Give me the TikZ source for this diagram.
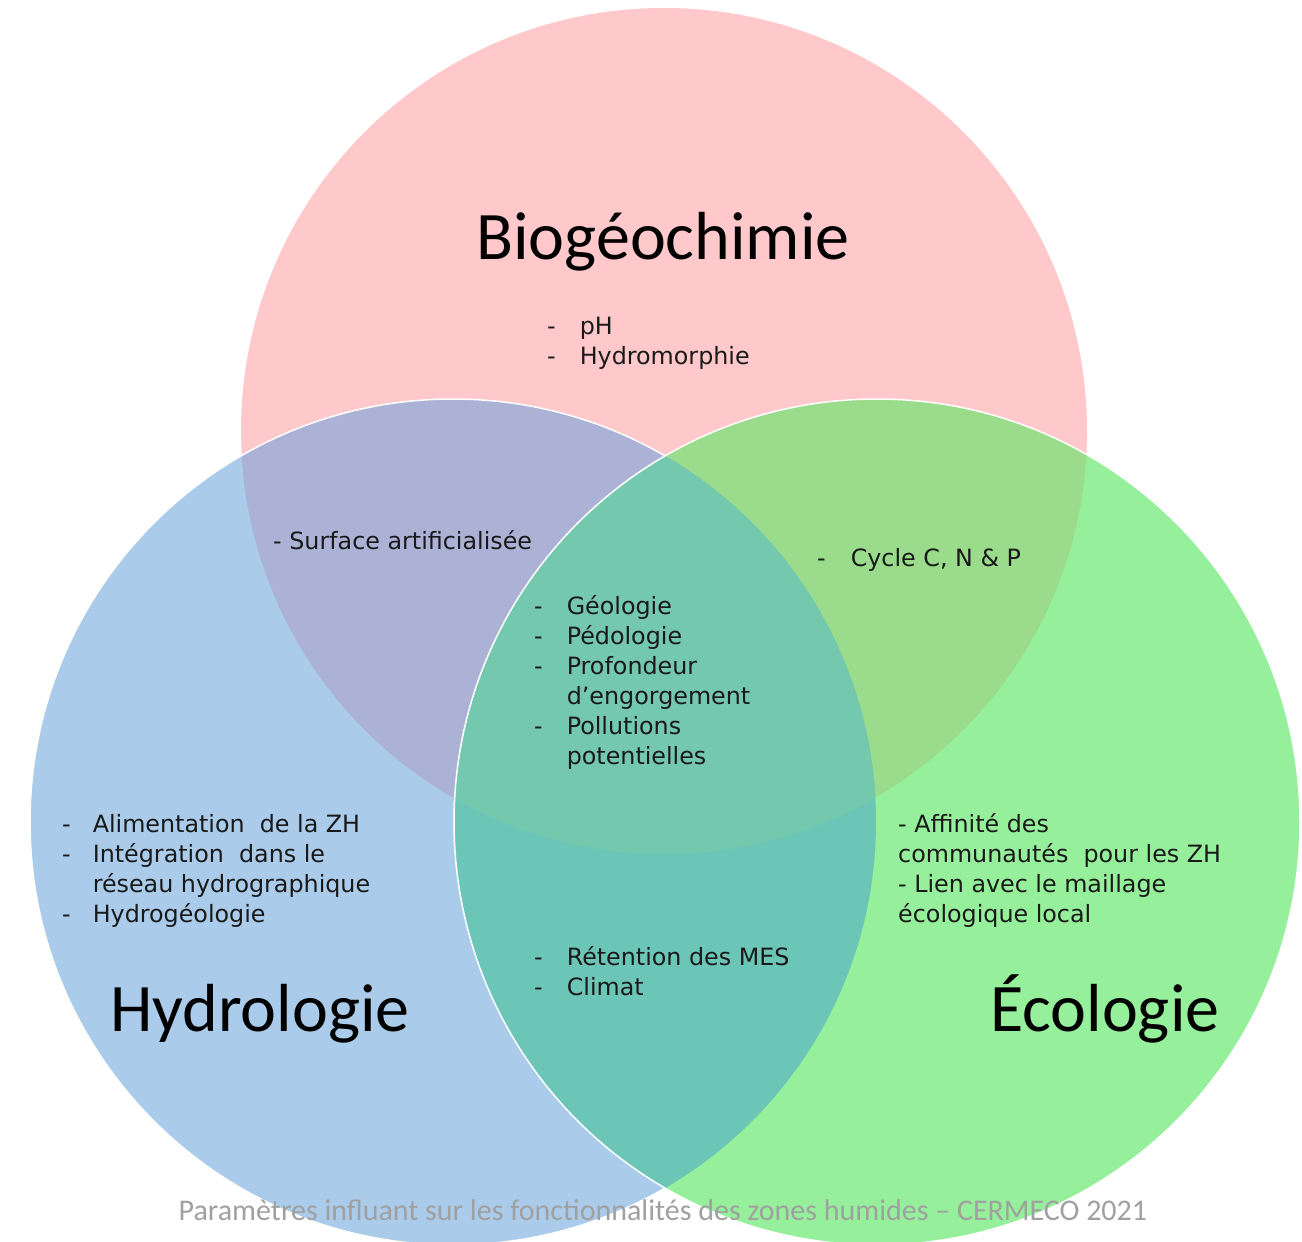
\documentclass[tikz,border=0pt]{standalone}
\usepackage{fontspec}
\newfontfamily\titlefont{Carlito}
\newfontfamily\listfont{DejaVu Sans}

\definecolor{biocol}{RGB}{255,200,203}
\definecolor{hydcol}{RGB}{170,204,234}
\definecolor{ecocol}{RGB}{150,240,155}
\definecolor{biohydcol}{RGB}{172,178,214}
\definecolor{bioecocol}{RGB}{155,220,140}
\definecolor{hydecocol}{RGB}{108,198,184}
\definecolor{allcol}{RGB}{116,200,174}
\definecolor{captioncol}{RGB}{160,160,160}

\newcommand{\rayon}{423}
\newcommand{\puces}[2][24pt]{\begin{tabular}[t]{@{}l@{\hspace{#1}}l@{}}#2\end{tabular}}
\newcommand{\lignes}[1]{\begin{tabular}[t]{@{}l@{}}#1\end{tabular}}

\tikzset{
  titletext/.style={font=\titlefont\fontsize{68}{70}\selectfont, text=black, inner sep=0pt},
  listtext/.style={font=\listfont\fontsize{23.8}{30}\selectfont, text=black!90, inner sep=0pt, anchor=base west},
}

\begin{document}
\begin{tikzpicture}[x=1pt,y=-1pt]
    \useasboundingbox (0,0) rectangle (1302,1242);
    \coordinate (bio) at (664,431);
    \coordinate (hyd) at (453,822);
    \coordinate (eco) at (877,822);

    \fill[biocol] (bio) circle (\rayon);
    \fill[hydcol] (hyd) circle (\rayon);
    \begin{scope}
        \clip (bio) circle (\rayon);
        \fill[biohydcol] (hyd) circle (\rayon);
    \end{scope}
    \draw[white, line width=1.5pt] (hyd) circle (\rayon);
    \fill[ecocol] (eco) circle (\rayon);
    \begin{scope}
        \clip (bio) circle (\rayon);
        \fill[bioecocol] (eco) circle (\rayon);
    \end{scope}
    \begin{scope}
        \clip (hyd) circle (\rayon);
        \fill[hydecocol] (eco) circle (\rayon);
    \end{scope}
    \begin{scope}
        \clip (bio) circle (\rayon);
        \clip (hyd) circle (\rayon);
        \fill[allcol] (eco) circle (\rayon);
    \end{scope}
    \draw[white, line width=1.5pt] (eco) circle (\rayon);

    \node[titletext, anchor=base] (titrebio) at (663,259) {Biogéochimie};
    \node[titletext, anchor=base west] (titrehyd) at (110,1031) {Hydrologie};
    \node[titletext, anchor=base west] (titreeco) at (990,1031) {Écologie};

    \node[listtext] (listebio) at (547,334) {\puces{-&pH\\-&Hydromorphie}};
    \node[listtext] (listebiohyd) at (273,549) {- Surface artificialisée};
    \node[listtext] (listebioeco) at (817,566) {\puces[25pt]{-&Cycle C, N \& P}};
    \node[listtext] (listecentre) at (534,614) {\puces{-&Géologie\\-&Pédologie\\-&Profondeur\\&d’engorgement\\-&Pollutions\\&potentielles}};
    \node[listtext] (listehyd) at (62,832) {\puces[22pt]{-&Alimentation\ \ de la ZH\\-&Intégration\ \ dans le\\&réseau hydrographique\\-&Hydrogéologie}};
    \node[listtext] (listeeco) at (898,832) {\lignes{- Affinité des\\communautés\ \ pour les ZH\\- Lien avec le maillage\\écologique local}};
    \node[listtext] (listehydeco) at (534,965) {\puces{-&Rétention des MES\\-&Climat}};

    \node[font=\titlefont\fontsize{30}{32}\selectfont, text=captioncol, anchor=base, inner sep=0pt] (legende) at (663,1220) {Paramètres influant sur les fonctionnalités des zones humides – CERMECO 2021};
\end{tikzpicture}
\end{document}
